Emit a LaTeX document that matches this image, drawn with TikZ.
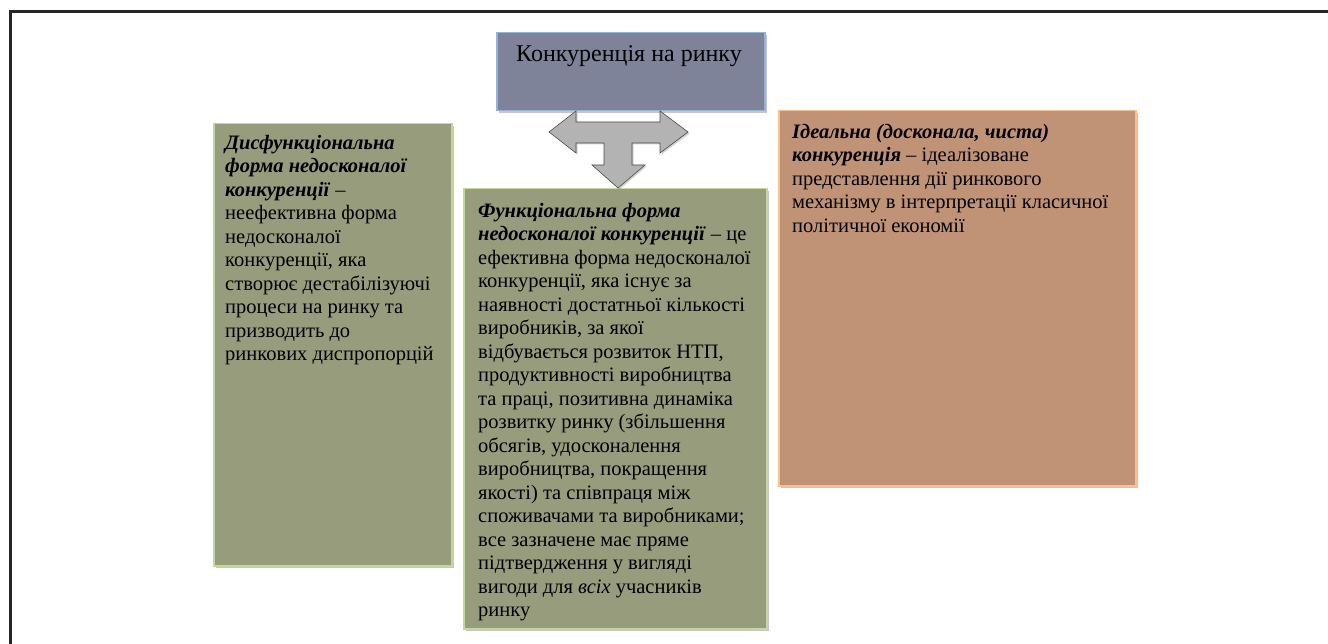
\documentclass[tikz,border=0pt]{standalone}
\usepackage{fontspec}
\setmainfont{Liberation Serif}
\usetikzlibrary{positioning,shadows}

\definecolor{titlefill}{HTML}{7F8399}
\definecolor{titleline}{HTML}{95B3D7}
\definecolor{greenfill}{HTML}{979C7D}
\definecolor{greenline}{HTML}{C3D69B}
\definecolor{orangefill}{HTML}{C19376}
\definecolor{orangeline}{HTML}{FAC08F}
\definecolor{arrowfill}{HTML}{B3B3B3}

\tikzset{
  box/.style={rectangle, anchor=north west, inner sep=0pt, line width=1.5pt,
    drop shadow={shadow xshift=2.5pt, shadow yshift=-2.5pt, opacity=.45}},
  boxtext/.style={anchor=north west, inner sep=0pt, align=left,
    font=\fontsize{20.5}{23.5}\selectfont},
}
\newcommand{\bi}[1]{\textbf{\textit{#1}}}

\begin{document}
\begin{tikzpicture}[x=1pt, y=-1pt]
        \useasboundingbox (0,0) rectangle (1328,644);
        % Frame
        \draw[line width=3pt, black!85] (10,644) -- (10,12) -- (1328,12);
        % Boxes
        \node (title) at (496, 32) [box, draw=titleline, fill=titlefill, minimum width=268pt, minimum height=78pt] {};
        \node (dysf) at (213, 123) [box, draw=greenline, fill=greenfill, minimum width=238pt, minimum height=442pt] {};
        \node (func) at (463, 188) [box, draw=greenline, fill=greenfill, minimum width=303pt, minimum height=440pt] {};
        \node (ideal) at (778, 110) [box, draw=orangeline, fill=orangefill, minimum width=357pt, minimum height=375pt] {};
        % Texts
        \node (title-txt) at (629, 45) [anchor=north, inner sep=0pt, font=\fontsize{24}{28}\selectfont] {Конкуренція на ринку};
        \node (dysf-txt) at (225, 135) [boxtext] {\bi{Дисфункціональна}\\
          \bi{форма недосконалої}\\
          \bi{конкуренції} –\\
          неефективна форма\\
          недосконалої\\
          конкуренції, яка\\
          створює дестабілізуючі\\
          процеси на ринку та\\
          призводить до\\
          ринкових диспропорцій};
        \node (func-txt) at (478, 203) [boxtext] {\bi{Функціональна форма}\\
          \bi{недосконалої конкуренції} – це\\
          ефективна форма недосконалої\\
          конкуренції, яка існує за\\
          наявності достатньої кількості\\
          виробників, за якої\\
          відбувається розвиток НТП,\\
          продуктивності виробництва\\
          та праці, позитивна динаміка\\
          розвитку ринку (збільшення\\
          обсягів, удосконалення\\
          виробництва, покращення\\
          якості) та співпраця між\\
          споживачами та виробниками;\\
          все зазначене має пряме\\
          підтвердження у вигляді\\
          вигоди для \textit{всіх} учасників\\
          ринку};
        \node (ideal-txt) at (792, 124) [boxtext] {\bi{Ідеальна (досконала, чиста)}\\
          \bi{конкуренція} – ідеалізоване\\
          представлення дії ринкового\\
          механізму в інтерпретації класичної\\
          політичної економії};
        % Arrow
        \draw[fill=arrowfill, draw=black!70, line width=.6pt, line join=miter,
              drop shadow={shadow xshift=1.5pt, shadow yshift=-1.5pt, opacity=.35}]
          (549,132) -- (576,111) -- (576,122) -- (660,122) -- (660,111) -- (688,132)
          -- (660,153) -- (660,143) -- (632,143) -- (632,165) -- (645,165) -- (618,188)
          -- (592,165) -- (604,165) -- (604,143) -- (576,143) -- (576,153) -- cycle;
\end{tikzpicture}
\end{document}
